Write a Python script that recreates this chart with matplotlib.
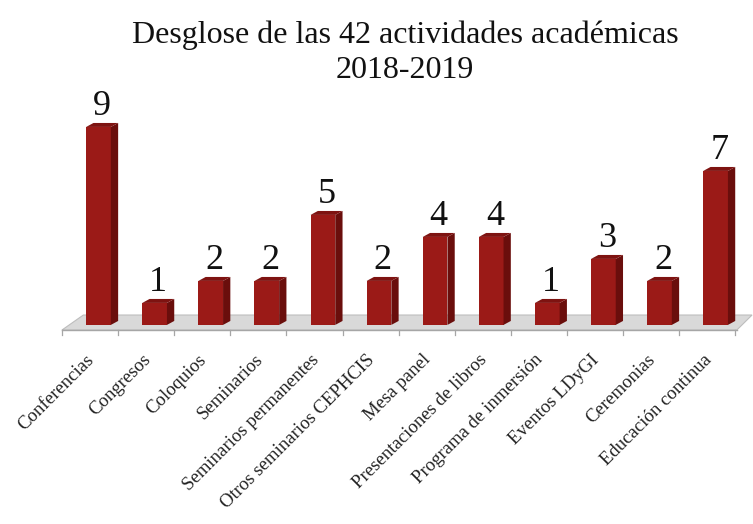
import matplotlib

matplotlib.use("Agg")
import matplotlib.pyplot as plt
from matplotlib.patches import Polygon

categories = [
    "Conferencias", "Congresos", "Coloquios", "Seminarios",
    "Seminarios permanentes", "Otros seminarios CEPHCIS", "Mesa panel",
    "Presentaciones de libros", "Programa de inmersión", "Eventos LDyGI",
    "Ceremonias", "Educación continua",
]
values = [9, 1, 2, 2, 5, 2, 4, 4, 1, 3, 2, 7]
title_lines = ["Desglose de las 42 actividades académicas", "2018-2019"]

FRONT = "#9b1a17"
SIDE = "#6a0e0c"
TOP = "#7e1311"
SERIF = ["Liberation Serif", "DejaVu Serif"]

# pseudo-3D offsets (data units)
DX, DY = 0.13, 0.18
W = 0.44

fig = plt.figure(figsize=(7.53, 5.24), dpi=100)
ax = fig.add_axes([0, 0, 1, 1])
ax.set_xlim(-1.756, 11.667)
ax.set_ylim(-9.05, 14.77)
ax.axis("off")

n = len(categories)

# floor
floor = Polygon([(-0.65, -0.23), (n - 0.62, -0.23), (n - 0.35, 0.45), (-0.27, 0.45)],
                closed=True, facecolor="#d9d9d9", edgecolor="#bdbdbd", lw=0.8, zorder=1)
ax.add_patch(floor)
ax.plot([-0.65, n - 0.62], [-0.23, -0.23], color="#a6a6a6", lw=1.0, zorder=2)
for i in range(n + 1):
    xt = i - 0.65
    ax.plot([xt, xt], [-0.23, -0.45], color="#a6a6a6", lw=0.9, zorder=2)

# bars
for i, v in enumerate(values):
    x0, x1 = i - W / 2, i + W / 2
    ax.bar(i, v, width=W, bottom=0, color=FRONT, zorder=3)
    ax.add_patch(Polygon([(x1, 0), (x1 + DX, DY), (x1 + DX, v + DY), (x1, v)],
                         closed=True, facecolor=SIDE, edgecolor="none", zorder=3))
    ax.add_patch(Polygon([(x0, v), (x1, v), (x1 + DX, v + DY), (x0 + DX, v + DY)],
                         closed=True, facecolor=TOP, edgecolor="none", zorder=3))
    ax.text(i + DX / 2, v + 0.55, str(v), ha="center", va="baseline",
            fontsize=26, family=SERIF, color="#111111", zorder=4)

# category labels
for i, lab in enumerate(categories):
    ax.text(i - 0.23, -1.2, lab, rotation=45, rotation_mode="anchor",
            ha="right", va="top", fontsize=13.5, family=SERIF, color="#222222")

fig.text(0.538, 1 - 43 / 524, title_lines[0], ha="center", va="baseline",
         fontsize=23, family=SERIF, color="#111111")
fig.text(0.538, 1 - 78 / 524, title_lines[1], ha="center", va="baseline",
         fontsize=23, family=SERIF, color="#111111")

fig.savefig("out.png", dpi=100, facecolor="white")
